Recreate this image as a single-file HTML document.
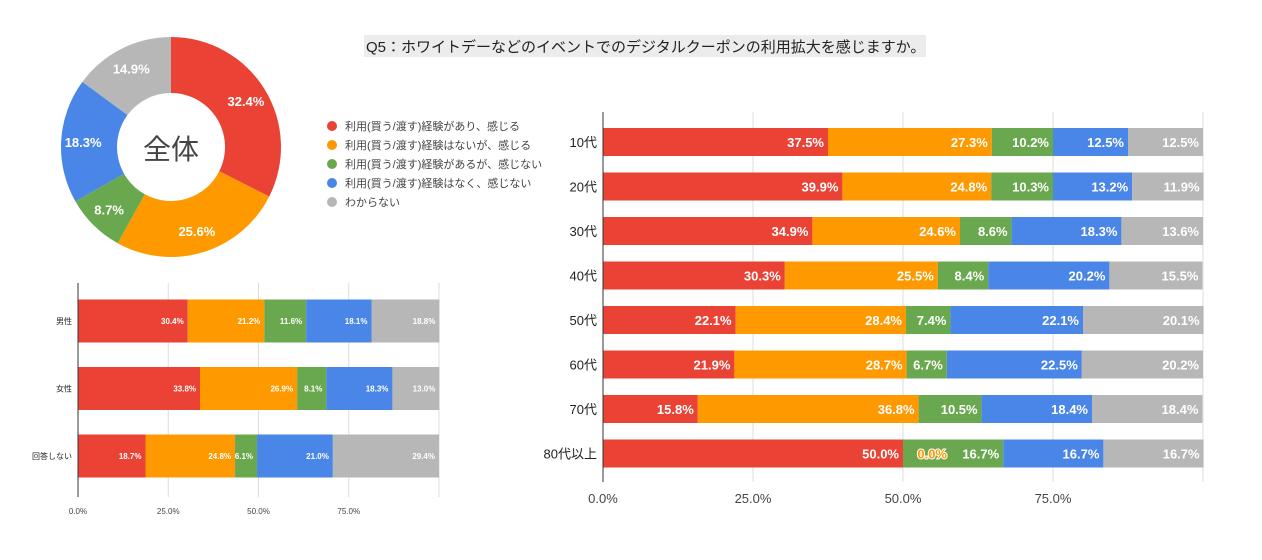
<!DOCTYPE html>
<html><head><meta charset="utf-8">
<style>
body{margin:0;background:#fff;width:1262px;height:560px;overflow:hidden;font-family:"Liberation Sans","Noto Sans CJK JP",sans-serif;}
svg{position:absolute;left:0;top:0}
</style></head>
<body>
<svg id="svg" width="1262" height="560">
  <rect x="364" y="35" width="562" height="22" fill="#ececec"/>
  <text x="366" y="52" font-size="15" fill="#222">Q5：ホワイトデーなどのイベントでのデジタルクーポンの利用拡大を感じますか。</text>
  <g id="donut"></g>
  <g id="legend"></g>
  <g id="small"></g>
  <g id="big"></g>
</svg>
<script>
const colors=["#ea4335","#ff9900","#6aa84f","#4a86e8","#b7b7b7"];
const seriesNames=["利用(買う/渡す)経験があり、感じる","利用(買う/渡す)経験はないが、感じる","利用(買う/渡す)経験があるが、感じない","利用(買う/渡す)経験はなく、感じない","わからない"];
const totalValues=[32.4,25.6,8.7,18.3,14.9];
const genderCats=["男性","女性","回答しない"];
const genderS1=[30.4,33.8,18.7];
const genderS2=[21.2,26.9,24.8];
const genderS3=[11.6,8.1,6.1];
const genderS4=[18.1,18.3,21.0];
const genderS5=[18.8,13.0,29.4];
const ageCats=["10代","20代","30代","40代","50代","60代","70代","80代以上"];
const ageS1=[37.5,39.9,34.9,30.3,22.1,21.9,15.8,50.0];
const ageS2=[27.3,24.8,24.6,25.5,28.4,28.7,36.8,0.0];
const ageS3=[10.2,10.3,8.6,8.4,7.4,6.7,10.5,16.7];
const ageS4=[12.5,13.2,18.3,20.2,22.1,22.5,18.4,16.7];
const ageS5=[12.5,11.9,13.6,15.5,20.1,20.2,18.4,16.7];
const tickVals=[0,25,50,75];
const NS="http://www.w3.org/2000/svg";
function mk(tag,attrs,parent){const e=document.createElementNS(NS,tag);for(const k in attrs)e.setAttribute(k,attrs[k]);parent.appendChild(e);return e;}

// Donut
const dg=document.getElementById('donut');
const cx=171,cy=147,R=110,r=54;
const tot=totalValues.reduce((a,b)=>a+b,0);
let ang=0;
totalValues.forEach((v,i)=>{
  const a0=ang/tot*2*Math.PI, a1=(ang+v)/tot*2*Math.PI; ang+=v;
  const p=(a,rr)=>[cx+rr*Math.sin(a),cy-rr*Math.cos(a)];
  const [x0,y0]=p(a0,R),[x1,y1]=p(a1,R),[x2,y2]=p(a1,r),[x3,y3]=p(a0,r);
  const lg=(a1-a0)>Math.PI?1:0;
  const s=mk('path',{d:`M${x0},${y0}A${R},${R} 0 ${lg} 1 ${x1},${y1}L${x2},${y2}A${r},${r} 0 ${lg} 0 ${x3},${y3}Z`,fill:colors[i]},dg);
  
  
  const [lx,ly]=p((a0+a1)/2,(R+r)/2+6);
  const t=mk('text',{x:lx,y:ly+5,'text-anchor':'middle','font-size':13,'font-weight':'bold',fill:'#fff'},dg);
  t.textContent=v.toFixed(1)+'%';
  
  
});
const ct=mk('text',{x:cx,y:cy+12,'text-anchor':'middle','font-size':28,fill:'#444'},dg);
ct.textContent='全体';



// Legend
const lgG=document.getElementById('legend');
seriesNames.forEach((n,i)=>{
  const y=126+i*19;
  const c=mk('circle',{cx:332,cy:y,r:5,fill:colors[i]},lgG);
  
  
  const t=mk('text',{x:345,y:y+4,'font-size':11,fill:'#444'},lgG);
  t.textContent=n;
  
  
});

function barChart(g,cats,series,o){
  const xs=v=>o.x0+(o.x1-o.x0)*v/100;
  tickVals.concat([100]).forEach(v=>{
    const l=mk('line',{x1:xs(v),x2:xs(v),y1:o.top,y2:o.bottom,stroke:'#ddd','stroke-width':1},g);
    
    
  });
  tickVals.forEach(v=>{
    const t=mk('text',{x:xs(v),y:o.tickY,'text-anchor':'middle','font-size':o.tickFs,fill:'#444'},g);
    t.textContent=v.toFixed(1)+'%';
    
    
  });
  const bars=mk('g',{},g);
  const labels=mk('g',{},g);
  cats.forEach((c,ci)=>{
    const yc=o.y0+ci*o.step;
    const t=mk('text',{x:o.x0-6,y:yc+o.catFs*0.38,'text-anchor':'end','font-size':o.catFs,fill:'#222'},labels);
    t.textContent=c;
    
    
    let acc=0;
    series.forEach((s,si)=>{
      const v=s[ci];
      const b=mk('rect',{x:xs(acc),y:yc-o.bh/2,width:Math.max(0,xs(acc+v)-xs(acc)),height:o.bh,fill:colors[si]},bars);
      
      
      acc+=v;
      const lt=mk('text',{x:xs(acc)-4,y:yc+o.valFs*0.38,'text-anchor':'end','font-size':o.valFs,'font-weight':'bold',fill:v===0?'#ff9900':'#fff'},labels);
      if(v===0){lt.setAttribute('stroke','#fff');lt.setAttribute('stroke-width','2');lt.setAttribute('paint-order','stroke');lt.setAttribute('x',xs(acc)+44);}
      lt.textContent=v.toFixed(1)+'%';
      
      
    });
  });
  const ax=mk('line',{x1:o.x0,x2:o.x0,y1:o.top,y2:o.bottom,stroke:'#333','stroke-width':1},g);
  
  
}
barChart(document.getElementById('small'),genderCats,[genderS1,genderS2,genderS3,genderS4,genderS5],
  {x0:78,x1:439,top:283,bottom:497,y0:321,step:67.5,bh:43,tickY:514,tickFs:8,catFs:8,valFs:8});
barChart(document.getElementById('big'),ageCats,[ageS1,ageS2,ageS3,ageS4,ageS5],
  {x0:603,x1:1203,top:112,bottom:482,y0:142,step:44.5,bh:28,tickY:503,tickFs:13,catFs:13,valFs:13});
</script>
</body></html>
